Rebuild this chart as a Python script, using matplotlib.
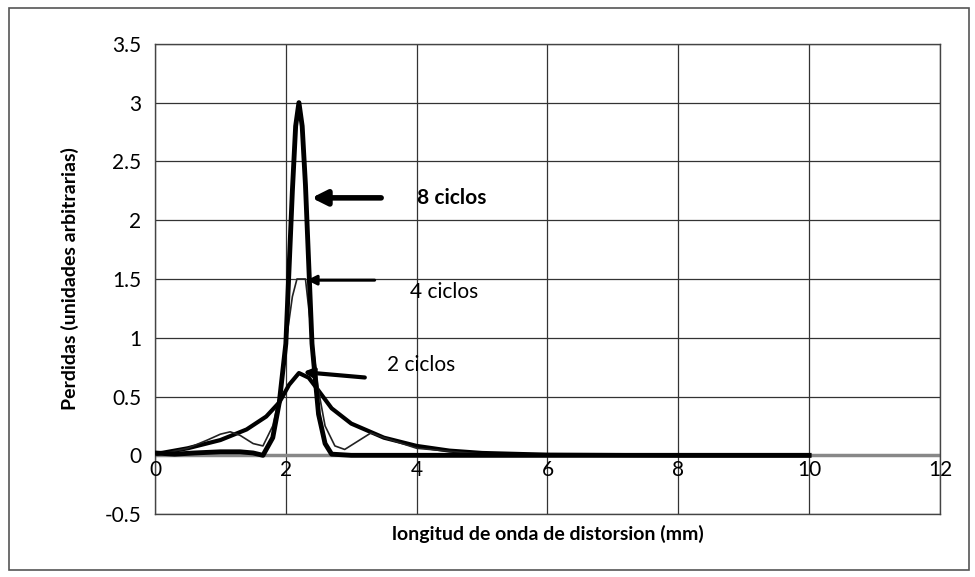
import matplotlib
matplotlib.use("Agg")
import matplotlib.pyplot as plt
from matplotlib.patches import Rectangle

# ---- data ----
x8 = [0, 0.3, 0.6, 1.0, 1.3, 1.5, 1.65, 1.8, 1.9, 2.0, 2.1, 2.15, 2.2, 2.25, 2.3, 2.4, 2.5, 2.6, 2.7, 3.0, 4, 6, 8, 10]
y8 = [0.02, 0.01, 0.02, 0.03, 0.03, 0.02, 0.0, 0.15, 0.45, 0.95, 2.25, 2.8, 3.0, 2.8, 2.3, 0.95, 0.35, 0.1, 0.01, 0.0, 0.0, 0.0, 0.0, 0.0]

x4 = [0, 0.5, 0.8, 1.0, 1.15, 1.3, 1.5, 1.65, 1.8, 1.9, 2.0, 2.1, 2.17, 2.3, 2.4, 2.5, 2.6, 2.75, 2.9, 3.1, 3.3, 3.5, 4, 5, 6, 8, 10]
y4 = [0.0, 0.06, 0.13, 0.18, 0.2, 0.17, 0.1, 0.08, 0.25, 0.5, 0.95, 1.35, 1.5, 1.5, 1.0, 0.55, 0.25, 0.08, 0.05, 0.12, 0.19, 0.15, 0.06, 0.01, 0.0, 0.0, 0.0]

x2 = [0, 0.5, 1.0, 1.4, 1.7, 1.9, 2.05, 2.2, 2.35, 2.5, 2.7, 3.0, 3.5, 4.0, 4.5, 5, 6, 8, 10]
y2 = [0.01, 0.06, 0.13, 0.22, 0.33, 0.45, 0.6, 0.7, 0.66, 0.55, 0.4, 0.27, 0.15, 0.08, 0.04, 0.02, 0.005, 0.0, 0.0]

xticks = [0, 2, 4, 6, 8, 10, 12]
yticks = [-0.5, 0, 0.5, 1, 1.5, 2, 2.5, 3, 3.5]
ytick_labels = ["-0.5", "0", "0.5", "1", "1.5", "2", "2.5", "3", "3.5"]

plt.rcParams['font.family'] = ['Lato', 'DejaVu Sans']

fig = plt.figure(figsize=(9.75, 5.77), dpi=100)
ax = fig.add_axes([0.159, 0.109, 0.805, 0.815])

ax.set_xlim(0, 12)
ax.set_ylim(-0.5, 3.5)
ax.set_xticks(xticks)
ax.set_yticks(yticks)
ax.set_yticklabels(ytick_labels)
ax.grid(True, color='#333333', linewidth=0.9)
ax.set_axisbelow(True)
for s in ax.spines.values():
    s.set_color('#444444')
    s.set_linewidth(1.0)

# x axis crossing at y=0
ax.axhline(0, color='#888888', linewidth=2.5, zorder=1)
ax.tick_params(axis='x', length=0, pad=0, labelsize=15)
ax.tick_params(axis='y', length=0, pad=10, labelsize=15)
ax.xaxis.set_tick_params(labelbottom=False)
for xv in xticks:
    ax.text(xv, -0.04, str(xv), ha='center', va='top', fontsize=15)

ax.plot(x2, y2, color='black', linewidth=3.0, zorder=3, solid_joinstyle='round')
ax.plot(x4, y4, color='#222222', linewidth=1.2, zorder=4)
ax.plot(x8, y8, color='black', linewidth=3.5, zorder=5, solid_joinstyle='round')

# arrows + labels
ax.annotate('', xy=(2.35, 2.19), xytext=(3.5, 2.19),
            arrowprops=dict(arrowstyle='-|>', color='black', lw=4, mutation_scale=22))
ax.text(4.0, 2.19, '8 ciclos', fontsize=15, fontweight='bold', va='center', ha='left')
ax.annotate('', xy=(2.28, 1.49), xytext=(3.4, 1.49),
            arrowprops=dict(arrowstyle='-|>', color='black', lw=2.2, mutation_scale=14))
ax.text(3.9, 1.39, '4 ciclos', fontsize=15, va='center', ha='left')
ax.annotate('', xy=(2.22, 0.71), xytext=(3.25, 0.66),
            arrowprops=dict(arrowstyle='-|>', color='black', lw=3, mutation_scale=14))
ax.text(3.55, 0.77, '2 ciclos', fontsize=15, va='center', ha='left')

ax.set_xlabel('longitud de onda de distorsion (mm)', fontsize=14, fontweight='bold', labelpad=8)
ax.set_ylabel('Perdidas (unidades arbitrarias)', fontsize=14, fontweight='bold', labelpad=18)

# chart border
fig.patches.append(Rectangle((0.009, 0.012), 0.985, 0.975, transform=fig.transFigure,
                             fill=False, edgecolor='#555555', linewidth=1.2))

fig.savefig('out.png', dpi=100)
